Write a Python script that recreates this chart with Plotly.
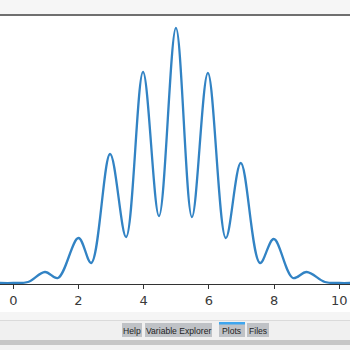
import plotly.graph_objects as go

# data (x position, height)
xs = [-0.41, 0.0, 0.45, 0.97, 1.37, 2.0, 2.39, 2.97, 3.46, 3.98, 4.47, 4.99,
      5.48, 5.97, 6.52, 6.98, 7.57, 7.99, 8.58, 9.0, 9.56, 10.0, 10.35]
ys = [0, 0, 1, 11, 5, 45, 20, 129, 46, 211, 67, 255,
      66, 210, 45, 120, 20, 44, 5, 11, 1, 0, 0]
tick_vals = [0, 2, 4, 6, 8, 10]
tick_text = ["0", "2", "4", "6", "8", "10"]
tabs = ["Help", "Variable Explorer", "Plots", "Files"]

W, H = 350, 350
TOP, BOT = 16, 284

def py(p):
    return (BOT - p) / (BOT - TOP)

def px(p):
    return p / W

fig = go.Figure()
fig.add_trace(go.Scatter(x=xs, y=ys, mode="lines",
                         line=dict(color="#3283c4", width=2.3, shape="spline", smoothing=1.0),
                         hoverinfo="skip", showlegend=False))

shapes = []
def rect(x0, y0, x1, y1, fill, line=None):
    shapes.append(dict(type="rect", xref="paper", yref="paper",
                       x0=px(x0), x1=px(x1), y0=py(y0), y1=py(y1),
                       fillcolor=fill, line=dict(width=0) if line is None else line, layer="above"))
def hline(y, x0, x1, color, width):
    shapes.append(dict(type="line", xref="paper", yref="paper",
                       x0=px(x0), x1=px(x1), y0=py(y), y1=py(y),
                       line=dict(color=color, width=width), layer="above"))

rect(0, 0, 350, 14, "#f6f6f6")
hline(15, 0, 350, "#6f6f6f", 2)
rect(0, 312, 350, 320, "#f5f5f5")
hline(320.5, 0, 350, "#dadada", 1)
rect(0, 321, 350, 340, "#f0f0f0")
rect(0, 340, 350, 345, "#c6c6c6")
rect(0, 345, 350, 350, "#f2f2f2")

tab_pos = [(122, 142), (145, 212), (219, 245), (247, 269)]
annotations = []
for name, (a, b) in zip(tabs, tab_pos):
    rect(a, 323, b, 337, "#bfc2c6")
    annotations.append(dict(xref="paper", yref="paper", x=px((a + b) / 2), y=py(330.5),
                            text=name, showarrow=False, xanchor="center", yanchor="middle",
                            font=dict(family="Liberation Sans", size=8.6, color="#1e1e1e")))
rect(219, 322, 245, 324.5, "#3ea6ef")

fig.update_layout(
    width=W, height=H,
    margin=dict(l=0, r=0, t=TOP, b=H - BOT),
    paper_bgcolor="white", plot_bgcolor="white",
    shapes=shapes, annotations=annotations,
    xaxis=dict(range=[-0.408, 10.33], tickvals=tick_vals, ticktext=tick_text,
               showgrid=False, zeroline=False, showline=True, linecolor="#333333", linewidth=1.2,
               ticks="outside", ticklen=4, tickcolor="#333333", tickwidth=1,
               tickfont=dict(family="DejaVu Sans", size=13, color="#3a3a3a")),
    yaxis=dict(range=[-1, 267], visible=False, showgrid=False, zeroline=False),
)
fig.write_html("out.html")
